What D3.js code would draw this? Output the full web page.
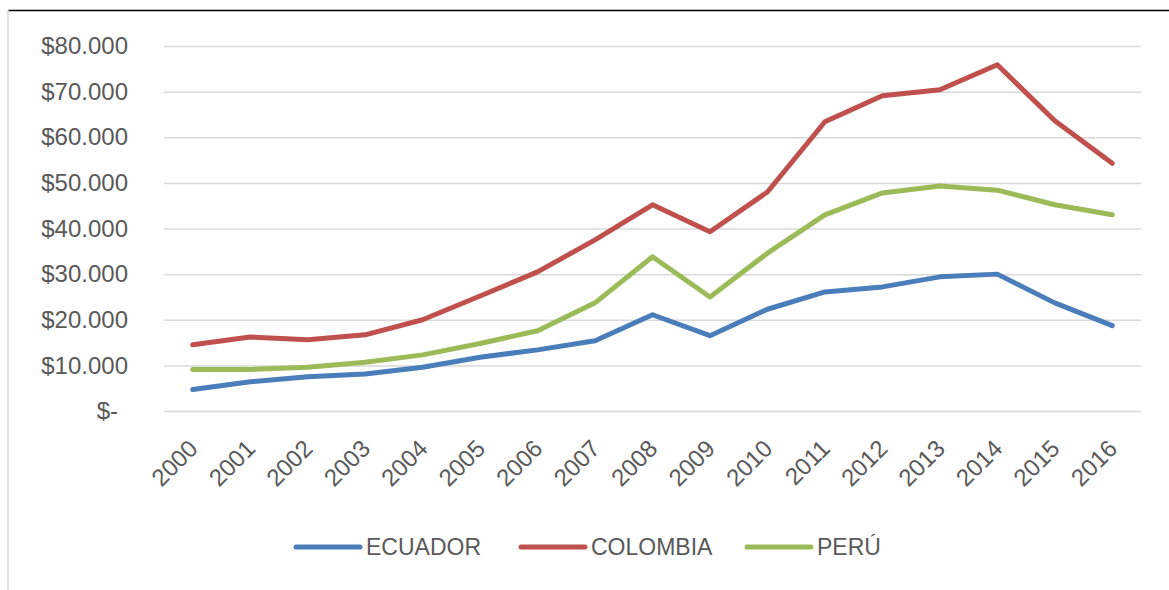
<!DOCTYPE html>
<html lang="es">
<head>
<meta charset="UTF-8">
<title>Ecuador, Colombia, Perú</title>
<script src="https://cdnjs.cloudflare.com/ajax/libs/d3/7.8.5/d3.min.js"></script>
<style>
	body { margin: 0; background: #fff; }
	svg text { font-family: "Liberation Sans", Arial, sans-serif; fill: #595959; }
</style>
</head>
<body>
<div id="viz"></div>
<script>
	// data
	const years = ['2000','2001','2002','2003','2004','2005','2006','2007','2008',
		'2009','2010','2011','2012','2013','2014','2015','2016'];
	const ecuador  = [4700, 6400, 7500, 8100, 9600, 11800, 13400, 15400, 21100, 16500, 22300, 26100, 27200, 29400, 30000, 23700, 18700];
	const colombia = [14500, 16200, 15600, 16700, 20000, 25200, 30500, 37500, 45200, 39300, 48000, 63400, 69100, 70400, 75900, 63600, 54300];
	const peru     = [9100, 9100, 9600, 10700, 12300, 14800, 17600, 23700, 33800, 25000, 34600, 43000, 47800, 49300, 48400, 45200, 43000];
	const yTicks = [0, 10000, 20000, 30000, 40000, 50000, 60000, 70000, 80000];
	const seriesNames = ['ECUADOR', 'COLOMBIA', 'PERÚ'];
	const seriesColors = ['#4a7ebb', '#c0504d', '#9bbb59'];

	const W = 1169, H = 590;
	const margin = {top: 46, left: 164, right: 28, bottom: 179};

	const svg = d3.select('#viz').append('svg')
		.attr('width', W)
		.attr('height', H);

	// chart frame edges
	svg.append('line').attr('x1', 8).attr('x2', W).attr('y1', 10.5).attr('y2', 10.5)
		.attr('stroke', '#000').attr('stroke-width', 1.5);
	svg.append('line').attr('x1', 8).attr('x2', 8).attr('y1', 10).attr('y2', H)
		.attr('stroke', '#d9d9d9').attr('stroke-width', 1.5);

	const x = d3.scalePoint()
		.domain(years)
		.range([margin.left, W - margin.right])
		.padding(0.5);

	const y = d3.scaleLinear()
		.domain([0, 80000])
		.range([H - margin.bottom, margin.top]);

	const fmt = (v) => v === 0 ? '$-' : '$' + d3.format(',')(v).replace(/,/g, '.');

	// gridlines + y labels
	const gy = svg.append('g')
		.attr('transform', 'translate(' + margin.left + ',0)')
		.call(d3.axisLeft(y).tickValues(yTicks).tickFormat(fmt)
			.tickSize(-(W - margin.right - margin.left)).tickPadding(36));
	gy.select('.domain').remove();
	gy.selectAll('.tick line').attr('stroke', '#d9d9d9').attr('stroke-width', 1.5);
	gy.selectAll('.tick text')
		.style('font-size', '24px')
		.attr('dx', (d) => d === 0 ? -10 : 0);

	// x labels
	const gx = svg.append('g')
		.attr('transform', 'translate(0,' + (H - margin.bottom) + ')')
		.call(d3.axisBottom(x).tickSize(0).tickPadding(0));
	gx.select('.domain').remove();
	gx.selectAll('.tick text')
		.style('font-size', '24px')
		.attr('text-anchor', 'end')
		.attr('dy', 0)
		.attr('transform', 'translate(6,39) rotate(-45)');

	// lines
	const line = d3.line()
		.x((d, i) => x(years[i]))
		.y((d) => y(d));

	[ecuador, colombia, peru].forEach((s, i) => {
		svg.append('path')
			.datum(s)
			.attr('fill', 'none')
			.attr('stroke', seriesColors[i])
			.attr('stroke-width', 5)
			.attr('stroke-linejoin', 'round')
			.attr('stroke-linecap', 'round')
			.attr('d', line);
	});

	// legend
	const legendX = [296, 521, 747];
	const legendY = 547;
	const lg = svg.append('g');
	seriesNames.forEach((n, i) => {
		lg.append('line')
			.attr('x1', legendX[i]).attr('x2', legendX[i] + 64)
			.attr('y1', legendY).attr('y2', legendY)
			.attr('stroke', seriesColors[i])
			.attr('stroke-width', 5)
			.attr('stroke-linecap', 'round');
		lg.append('text')
			.attr('x', legendX[i] + 70)
			.attr('y', legendY)
			.attr('dy', '0.36em')
			.style('font-size', '23px')
			.text(n);
	});
</script>
</body>
</html>
